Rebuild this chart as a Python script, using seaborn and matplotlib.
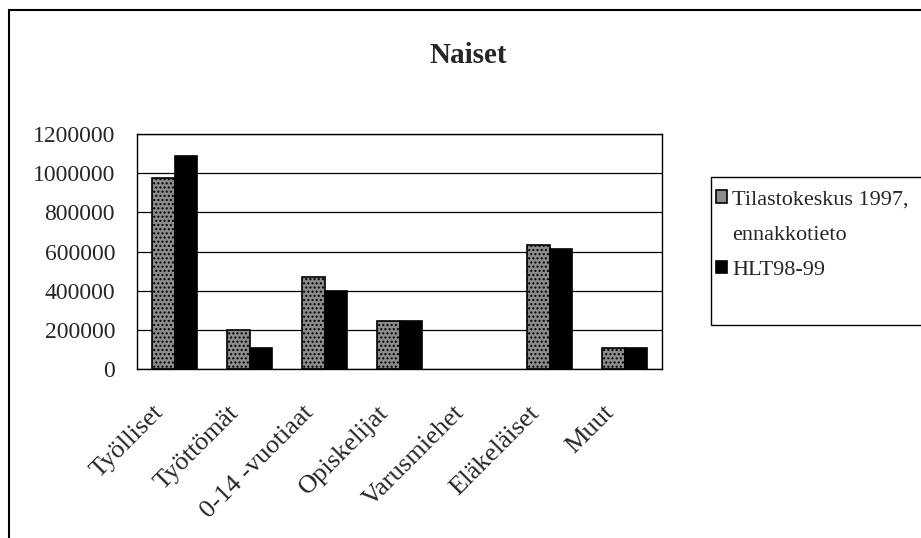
import matplotlib.pyplot as plt
import matplotlib.ticker as mticker
import numpy as np
import pandas as pd
import seaborn as sns
from matplotlib.patches import Rectangle

categories = ["Työlliset", "Työttömät", "0-14 -vuotiaat", "Opiskelijat",
              "Varusmiehet", "Eläkeläiset", "Muut"]
tilastokeskus = [975000, 198000, 472000, 245000, 0, 632000, 110000]
hlt = [1090000, 108000, 398000, 245000, 0, 615000, 110000]
series_names = ["Tilastokeskus 1997,", "HLT98-99"]
legend_extra = "ennakkotieto"  # second line of the first legend entry

df = pd.DataFrame({
    "kategoria": categories * 2,
    "arvo": tilastokeskus + hlt,
    "lahde": [series_names[0]] * len(categories) + [series_names[1]] * len(categories),
})

sns.set_style("white")
plt.rcParams["font.family"] = ["Liberation Serif", "DejaVu Serif"]
plt.rcParams["hatch.color"] = "#3a3a3a"
plt.rcParams["hatch.linewidth"] = 1.0

fig = plt.figure(figsize=(9.21, 5.38), dpi=100)
ax = fig.add_axes([0.149, 0.314, 0.570, 0.437])

sns.barplot(data=df, x="kategoria", y="arvo", hue="lahde",
            palette=["#8c8c8c", "black"], width=0.6, gap=0,
            edgecolor="black", linewidth=1.2, saturation=1, ax=ax)

# stipple look for the first series, hide empty bars
for patch in ax.containers[0]:
    patch.set_hatch("....")
for cont in ax.containers:
    for patch in cont:
        if patch.get_height() == 0:
            patch.set_visible(False)

ax.set_ylim(0, 1200000)
ax.set_yticks(np.arange(0, 1200001, 200000))
ax.yaxis.set_major_formatter(mticker.StrMethodFormatter("{x:.0f}"))
ax.yaxis.grid(True, color="black", linewidth=0.9)
ax.set_axisbelow(True)
ax.set_xlim(-0.5, len(categories) - 0.5)
ax.set_xlabel("")
ax.set_ylabel("")

# labels sit a bit left of the group centre, like the Excel original
ax.set_xticks(np.arange(len(categories)) - 0.19)
ax.set_xticklabels(categories, rotation=45, ha="right", va="center",
                   rotation_mode="anchor", fontsize=19)
ax.set_xticks(np.arange(-0.5, len(categories), 1), minor=True)
ax.tick_params(axis="x", which="major", length=0, pad=29)
ax.tick_params(axis="x", which="minor", length=5, color="black", direction="out")
ax.tick_params(axis="y", length=5, color="black", direction="out", labelsize=17, pad=11)

for s in ax.spines.values():
    s.set_color("black")
    s.set_linewidth(1)

fig.suptitle("Naiset", x=0.508, y=0.882, fontsize=21, fontweight="bold", va="baseline")

handles, labels = ax.get_legend_handles_labels()
blank = Rectangle((0, 0), 1, 1, fill=False, edgecolor="none", linewidth=0)
ax.legend([handles[0], blank, handles[1]],
          [labels[0], legend_extra, labels[1]],
          loc="upper left", bbox_to_anchor=(0.765, 0.667),
          bbox_transform=fig.transFigure, frameon=False,
          fontsize=16, handlelength=0.5, handleheight=0.5,
          handletextpad=0.25, labelspacing=0.72, borderpad=0.0)

fig.patches.append(Rectangle((711 / 921, 1 - 325 / 538), 0.3, 148 / 538,
                             transform=fig.transFigure, fill=False,
                             edgecolor="black", linewidth=1.0))
fig.patches.append(Rectangle((9 / 921, -0.1), 1.2, 1.1 - 10 / 538,
                             transform=fig.transFigure, fill=False,
                             edgecolor="black", linewidth=1.5))

fig.savefig("out.png", dpi=100)
